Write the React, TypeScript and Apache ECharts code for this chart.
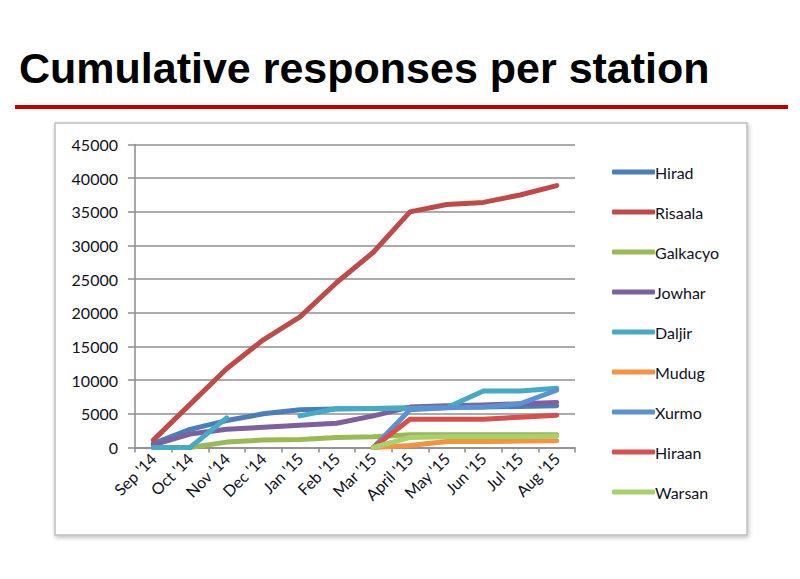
import React, { useEffect, useRef } from "react";
import * as echarts from "echarts";

const categories = ["Sep '14", "Oct '14", "Nov '14", "Dec '14", "Jan '15", "Feb '15", "Mar '15", "April '15", "May '15", "Jun '15", "Jul '15", "Aug '15"];
const seriesNames = ["Hirad", "Risaala", "Galkacyo", "Jowhar", "Daljir", "Mudug", "Xurmo", "Hiraan", "Warsan"];
const hirad = [600, 2700, 4000, 5000, 5600, 5700, 5800, 5900, 6000, 6000, 6100, 6200];
const risaala = [1100, 6400, 11700, 16000, 19400, 24500, 29000, 35000, 36100, 36400, 37500, 38900];
const galkacyo = [0, 0, 800, 1100, 1200, 1500, 1600, 1900, 1900, 1900, 1900, 1900];
const jowhar = [400, 2000, 2700, 3000, 3300, 3600, 4700, 6000, 6200, 6300, 6500, 6700];
const daljir = [0, 0, 4400, null, 4700, 5800, 5800, 5800, 5900, 8400, 8400, 8800];
const mudug = [null, null, null, null, null, null, 0, 300, 900, 900, 950, 1000];
const xurmo = [null, null, null, null, null, null, 0, 5600, 5900, 6000, 6500, 8500];
const hiraan = [null, null, null, null, null, null, 0, 4200, 4200, 4200, 4500, 4800];
const warsan = [null, null, null, null, null, null, 0, 1500, 1600, 1600, 1600, 1700];
const yTicks = { min: 0, max: 45000, interval: 5000 };

const seriesData = [hirad, risaala, galkacyo, jowhar, daljir, mudug, xurmo, hiraan, warsan];
const colors = ["#4A7EBB", "#BE4B48", "#98B954", "#7D60A0", "#46AAC5", "#F69240", "#5A93D4", "#D8504D", "#A7D16A"];

export default function App() {
  const ref = useRef<HTMLDivElement>(null);
  useEffect(() => {
    if (!ref.current) return;
    const chart = echarts.init(ref.current, null, { renderer: "svg" });
    const font = "Lato, 'Liberation Sans', sans-serif";
    chart.setOption({
      animation: false,
      backgroundColor: "#ffffff",
      color: colors,
      graphic: [
        {
          type: "rect",
          z: -10,
          shape: { x: 55, y: 123, width: 692, height: 412 },
          style: {
            fill: "#ffffff",
            stroke: "#BFBFBF",
            lineWidth: 1.5,
            shadowBlur: 4,
            shadowColor: "rgba(0,0,0,0.25)",
            shadowOffsetX: 1,
            shadowOffsetY: 2,
          },
        },
        {
          type: "text",
          x: 19,
          y: 68,
          style: {
            text: "Cumulative responses per station",
            font: "bold 43px 'Liberation Sans', Arial, sans-serif",
            fill: "#000000",
            verticalAlign: "middle",
          },
        },
        {
          type: "line",
          shape: { x1: 15, y1: 107, x2: 788, y2: 107 },
          style: { stroke: "#C00000", lineWidth: 4 },
        },
      ],
      legend: {
        orient: "vertical",
        left: 607,
        top: 159,
        icon: "roundRect",
        itemWidth: 43,
        itemHeight: 5,
        itemGap: 24,
        data: seriesNames,
        textStyle: {
          fontFamily: font,
          fontSize: 16,
          color: "#111122",
          lineHeight: 16,
          padding: [0, 0, 0, -5],
        },
      },
      grid: { left: 135, right: 225, top: 144.5, bottom: 131.5, containLabel: false },
      xAxis: {
        type: "category",
        data: categories,
        boundaryGap: true,
        axisLine: { lineStyle: { color: "#8C8C8C", width: 1.5 } },
        axisTick: { show: true, length: 5, lineStyle: { color: "#8C8C8C", width: 1.5 } },
        axisLabel: {
          rotate: 45,
          interval: 0,
          fontFamily: font,
          fontSize: 16,
          color: "#111122",
          margin: 8,
        },
      },
      yAxis: {
        type: "value",
        min: yTicks.min,
        max: yTicks.max,
        interval: yTicks.interval,
        axisLine: { show: true, lineStyle: { color: "#8C8C8C", width: 1.5 } },
        axisTick: { show: true, length: 7, lineStyle: { color: "#8C8C8C", width: 1.5 } },
        splitLine: { lineStyle: { color: "#ABABAB", width: 2 } },
        axisLabel: {
          fontFamily: font,
          fontSize: 16,
          color: "#111122",
          margin: 17,
          formatter: (v: number) => String(v),
        },
      },
      series: seriesNames.map((name, i) => ({
        name,
        type: "line",
        data: seriesData[i],
        showSymbol: false,
        symbol: "none",
        connectNulls: false,
        lineStyle: { width: 5, color: colors[i], cap: "round", join: "round" },
        itemStyle: { color: colors[i] },
      })),
    });
    return () => chart.dispose();
  }, []);
  return (
    <div
      ref={ref}
      style={{ position: "fixed", left: 0, top: 0, width: 800, height: 579 }}
    />
  );
}
